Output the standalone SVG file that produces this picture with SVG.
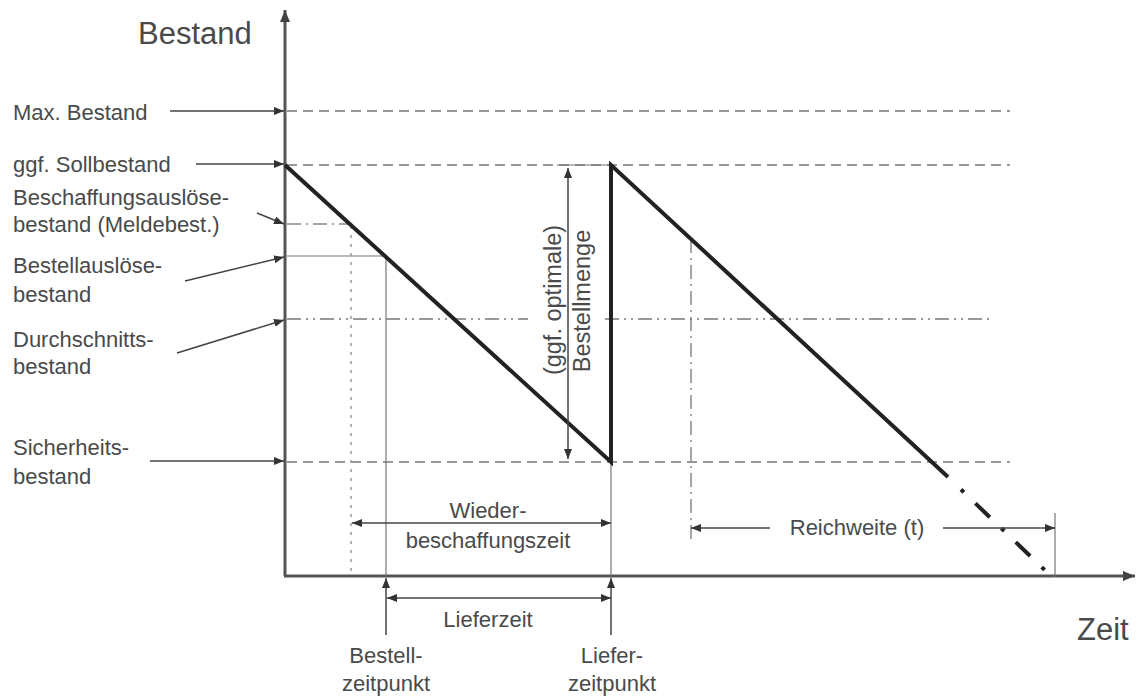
<svg xmlns="http://www.w3.org/2000/svg" width="1137" height="697" viewBox="0 0 1137 697">
<style>
text{font-family:"Liberation Sans",Arial,sans-serif;fill:#4a4a4a;font-size:22px}
.title{font-size:31px}
.rot{font-size:23.5px}
.mid{text-anchor:middle}
.axis{stroke:#555;stroke-width:3;fill:none}
.dash{stroke:#777;stroke-width:1.5;stroke-dasharray:10 6;fill:none}
.dashdot{stroke:#888;stroke-width:1.5;stroke-dasharray:14 5 2 5;fill:none}
.dashdotdot{stroke:#777;stroke-width:1.5;stroke-dasharray:14 5 2 5 2 5;fill:none}
.dot{stroke:#999;stroke-width:1.5;stroke-dasharray:3 6;fill:none}
.thin{stroke:#777;stroke-width:1.2;fill:none}
.lead{stroke:#444;stroke-width:1.5;fill:none}
.saw{stroke:#222;stroke-width:4;fill:none;stroke-linejoin:miter}
</style>
<defs>
<marker id="ah" markerUnits="userSpaceOnUse" markerWidth="10" markerHeight="8" refX="10" refY="4" orient="auto-start-reverse">
<path d="M0,0 L10,4 L0,8 z" fill="#333"/>
</marker>
<marker id="axh" markerUnits="userSpaceOnUse" markerWidth="12" markerHeight="10" refX="12" refY="5" orient="auto">
<path d="M0,0 L12,5 L0,10 z" fill="#444"/>
</marker>
</defs>

<g id="axes">
<line class="axis" x1="285" y1="576" x2="285" y2="10" marker-end="url(#axh)"/>
<line class="axis" x1="284" y1="576" x2="1135" y2="576" marker-end="url(#axh)"/>
<text class="title" x="138" y="44">Bestand</text>
<text class="title" x="1077" y="640">Zeit</text>
</g>

<g id="levels">
<line class="dash" x1="287" y1="111" x2="1010" y2="111"/>
<line class="dash" x1="287" y1="165" x2="1010" y2="165"/>
<line class="dashdot" x1="287" y1="224" x2="349" y2="224"/>
<line class="thin" x1="287" y1="256" x2="385" y2="256"/>
<path class="dashdotdot" d="M287,319 H528 M605,319 H993"/>
<line class="dash" x1="287" y1="462" x2="1010" y2="462"/>
<line class="thin" x1="557" y1="165" x2="611" y2="165"/>
</g>

<g id="verticals">
<line class="dot" x1="351" y1="226" x2="351" y2="572"/>
<line class="thin" x1="386" y1="258" x2="386" y2="576"/>
<line class="thin" x1="611" y1="462" x2="611" y2="576"/>
<line class="dashdot" x1="691" y1="239" x2="691" y2="540"/>
<line class="thin" x1="1055" y1="513" x2="1055" y2="577"/>
</g>

<g id="stock-curve">
<path class="saw" d="M285,165 L611,462 L611,165 L948,477"/>
<path d="M948,477 L1052,577" stroke="#222" stroke-width="4" fill="none" stroke-dasharray="0 18 4 16 20 16 4 16 20 16 4 60"/>
</g>

<g id="label-max">
<text x="13" y="120">Max. Bestand</text>
</g>
<g id="label-soll">
<text x="13" y="172">ggf. Sollbestand</text>
</g>
<g id="label-melde">
<text x="13" y="205">Beschaffungsauslöse-</text>
<text x="13" y="232">bestand (Meldebest.)</text>
</g>
<g id="label-bestellausloese">
<text x="13" y="273">Bestellauslöse-</text>
<text x="13" y="302">bestand</text>
</g>
<g id="label-durchschnitt">
<text x="13" y="347">Durchschnitts-</text>
<text x="13" y="374">bestand</text>
</g>
<g id="label-sicherheit">
<text x="13" y="455">Sicherheits-</text>
<text x="13" y="484">bestand</text>
</g>

<g id="bestellmenge">
<text class="mid rot" transform="translate(561,300) rotate(-90)">(ggf. optimale)</text>
<text class="mid rot" transform="translate(590,301) rotate(-90)">Bestellmenge</text>
</g>

<g id="wiederbeschaffungszeit">
<text class="mid" x="488" y="518">Wieder-</text>
<text class="mid" x="488" y="548">beschaffungszeit</text>
</g>

<g id="lieferzeit">
<text class="mid" x="488" y="627">Lieferzeit</text>
</g>

<g id="bestellzeitpunkt">
<text class="mid" x="386" y="663">Bestell-</text>
<text class="mid" x="386" y="691">zeitpunkt</text>
</g>

<g id="lieferzeitpunkt">
<text class="mid" x="612" y="663">Liefer-</text>
<text class="mid" x="612" y="691">zeitpunkt</text>
</g>

<g id="reichweite">
<text class="mid" x="857" y="535">Reichweite (t)</text>
</g>

<g id="connectors">
<line class="lead" x1="170" y1="111" x2="284" y2="111" marker-end="url(#ah)"/>
<line class="lead" x1="196" y1="164" x2="284" y2="164" marker-end="url(#ah)"/>
<line class="lead" x1="257" y1="213" x2="284" y2="224" marker-end="url(#ah)"/>
<line class="lead" x1="185" y1="281" x2="284" y2="257" marker-end="url(#ah)"/>
<line class="lead" x1="177" y1="353" x2="284" y2="320" marker-end="url(#ah)"/>
<line class="lead" x1="150" y1="461" x2="284" y2="461" marker-end="url(#ah)"/>
<line class="lead" x1="568" y1="168" x2="568" y2="459" marker-start="url(#ah)" marker-end="url(#ah)"/>
<line class="lead" x1="352" y1="523" x2="611" y2="523" marker-start="url(#ah)" marker-end="url(#ah)"/>
<line class="lead" x1="387" y1="598" x2="611" y2="598" marker-start="url(#ah)" marker-end="url(#ah)"/>
<line class="lead" x1="386" y1="635" x2="386" y2="578" marker-end="url(#ah)"/>
<line class="lead" x1="611" y1="635" x2="611" y2="578" marker-end="url(#ah)"/>
<line class="lead" x1="770" y1="528" x2="691" y2="528" marker-end="url(#ah)"/>
<line class="lead" x1="943" y1="528" x2="1055" y2="528" marker-end="url(#ah)"/>
</g>
</svg>
